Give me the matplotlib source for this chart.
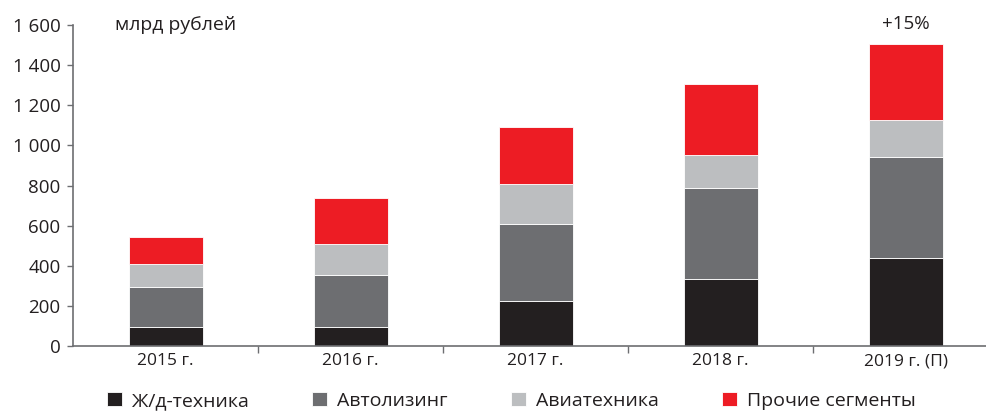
import matplotlib
matplotlib.use("Agg")
from matplotlib import pyplot as plt
from matplotlib.ticker import FuncFormatter, FixedLocator
import numpy as np

plt.rcParams['font.family'] = ['Open Sans', 'DejaVu Sans']

# data (млрд рублей)
years = ['2015 г.', '2016 г.', '2017 г.', '2018 г.', '2019 г. (П)']
rail = [95, 95, 225, 336, 440]
auto = [200, 260, 383, 453, 503]
avia = [115, 153, 199, 164, 183]
other = [135, 232, 285, 353, 381]
series_names = ['Ж/д-техника', 'Автолизинг', 'Авиатехника', 'Прочие сегменты']
colors = ['#231f20', '#6d6e71', '#bcbec0', '#ed1c24']

fig = plt.figure(figsize=(9.87, 4.12), dpi=100)
ax = fig.add_axes([0.074, 0.160, 0.926, 0.779])

x = np.arange(len(years))
bottom = np.zeros(len(years))
for vals, name, col in zip([rail, auto, avia, other], series_names, colors):
    ax.bar(x, vals, width=0.4, bottom=bottom, color=col, label=name,
           edgecolor='white', linewidth=0.6)
    bottom += np.array(vals)

# growth label over last bar
ax.text(x[-1], bottom[-1] + 55, '+15%', ha='center', va='bottom', fontsize=13.5, color='#231f20')
ax.text(0.046, 1.0, 'млрд рублей', transform=ax.transAxes, ha='left', va='center',
        fontsize=14, color='#231f20')

ax.set_ylim(0, 1600)
ax.set_xlim(-0.5, 4.44)
ax.set_yticks(np.arange(0, 1601, 200))
ax.yaxis.set_major_formatter(FuncFormatter(lambda v, p: '{:,.0f}'.format(v).replace(',', ' ')))
ax.set_xticks(x)
ax.set_xticklabels(years)
ax.xaxis.set_minor_locator(FixedLocator(x[:-1] + 0.5))
ax.tick_params(axis='x', which='major', length=0, pad=5, labelsize=12.5, labelcolor='#231f20')
ax.tick_params(axis='x', which='minor', length=5, width=1, color='#6d6e71', direction='out')
ax.tick_params(axis='y', length=4, width=1, color='#6d6e71', labelsize=13.5, labelcolor='#231f20', pad=5)

for s in ['top', 'right']:
    ax.spines[s].set_visible(False)
for s in ['left', 'bottom']:
    ax.spines[s].set_color('#6d6e71')
    ax.spines[s].set_linewidth(1.2)

h, l = ax.get_legend_handles_labels()
fig.legend(h, l, loc='center', bbox_to_anchor=(0.518, 0.027), ncol=4, frameon=False,
           fontsize=14, handlelength=0.78, handleheight=0.78, handletextpad=0.5,
           columnspacing=3.25, labelcolor='#231f20')

plt.savefig('out.png', dpi=100)
